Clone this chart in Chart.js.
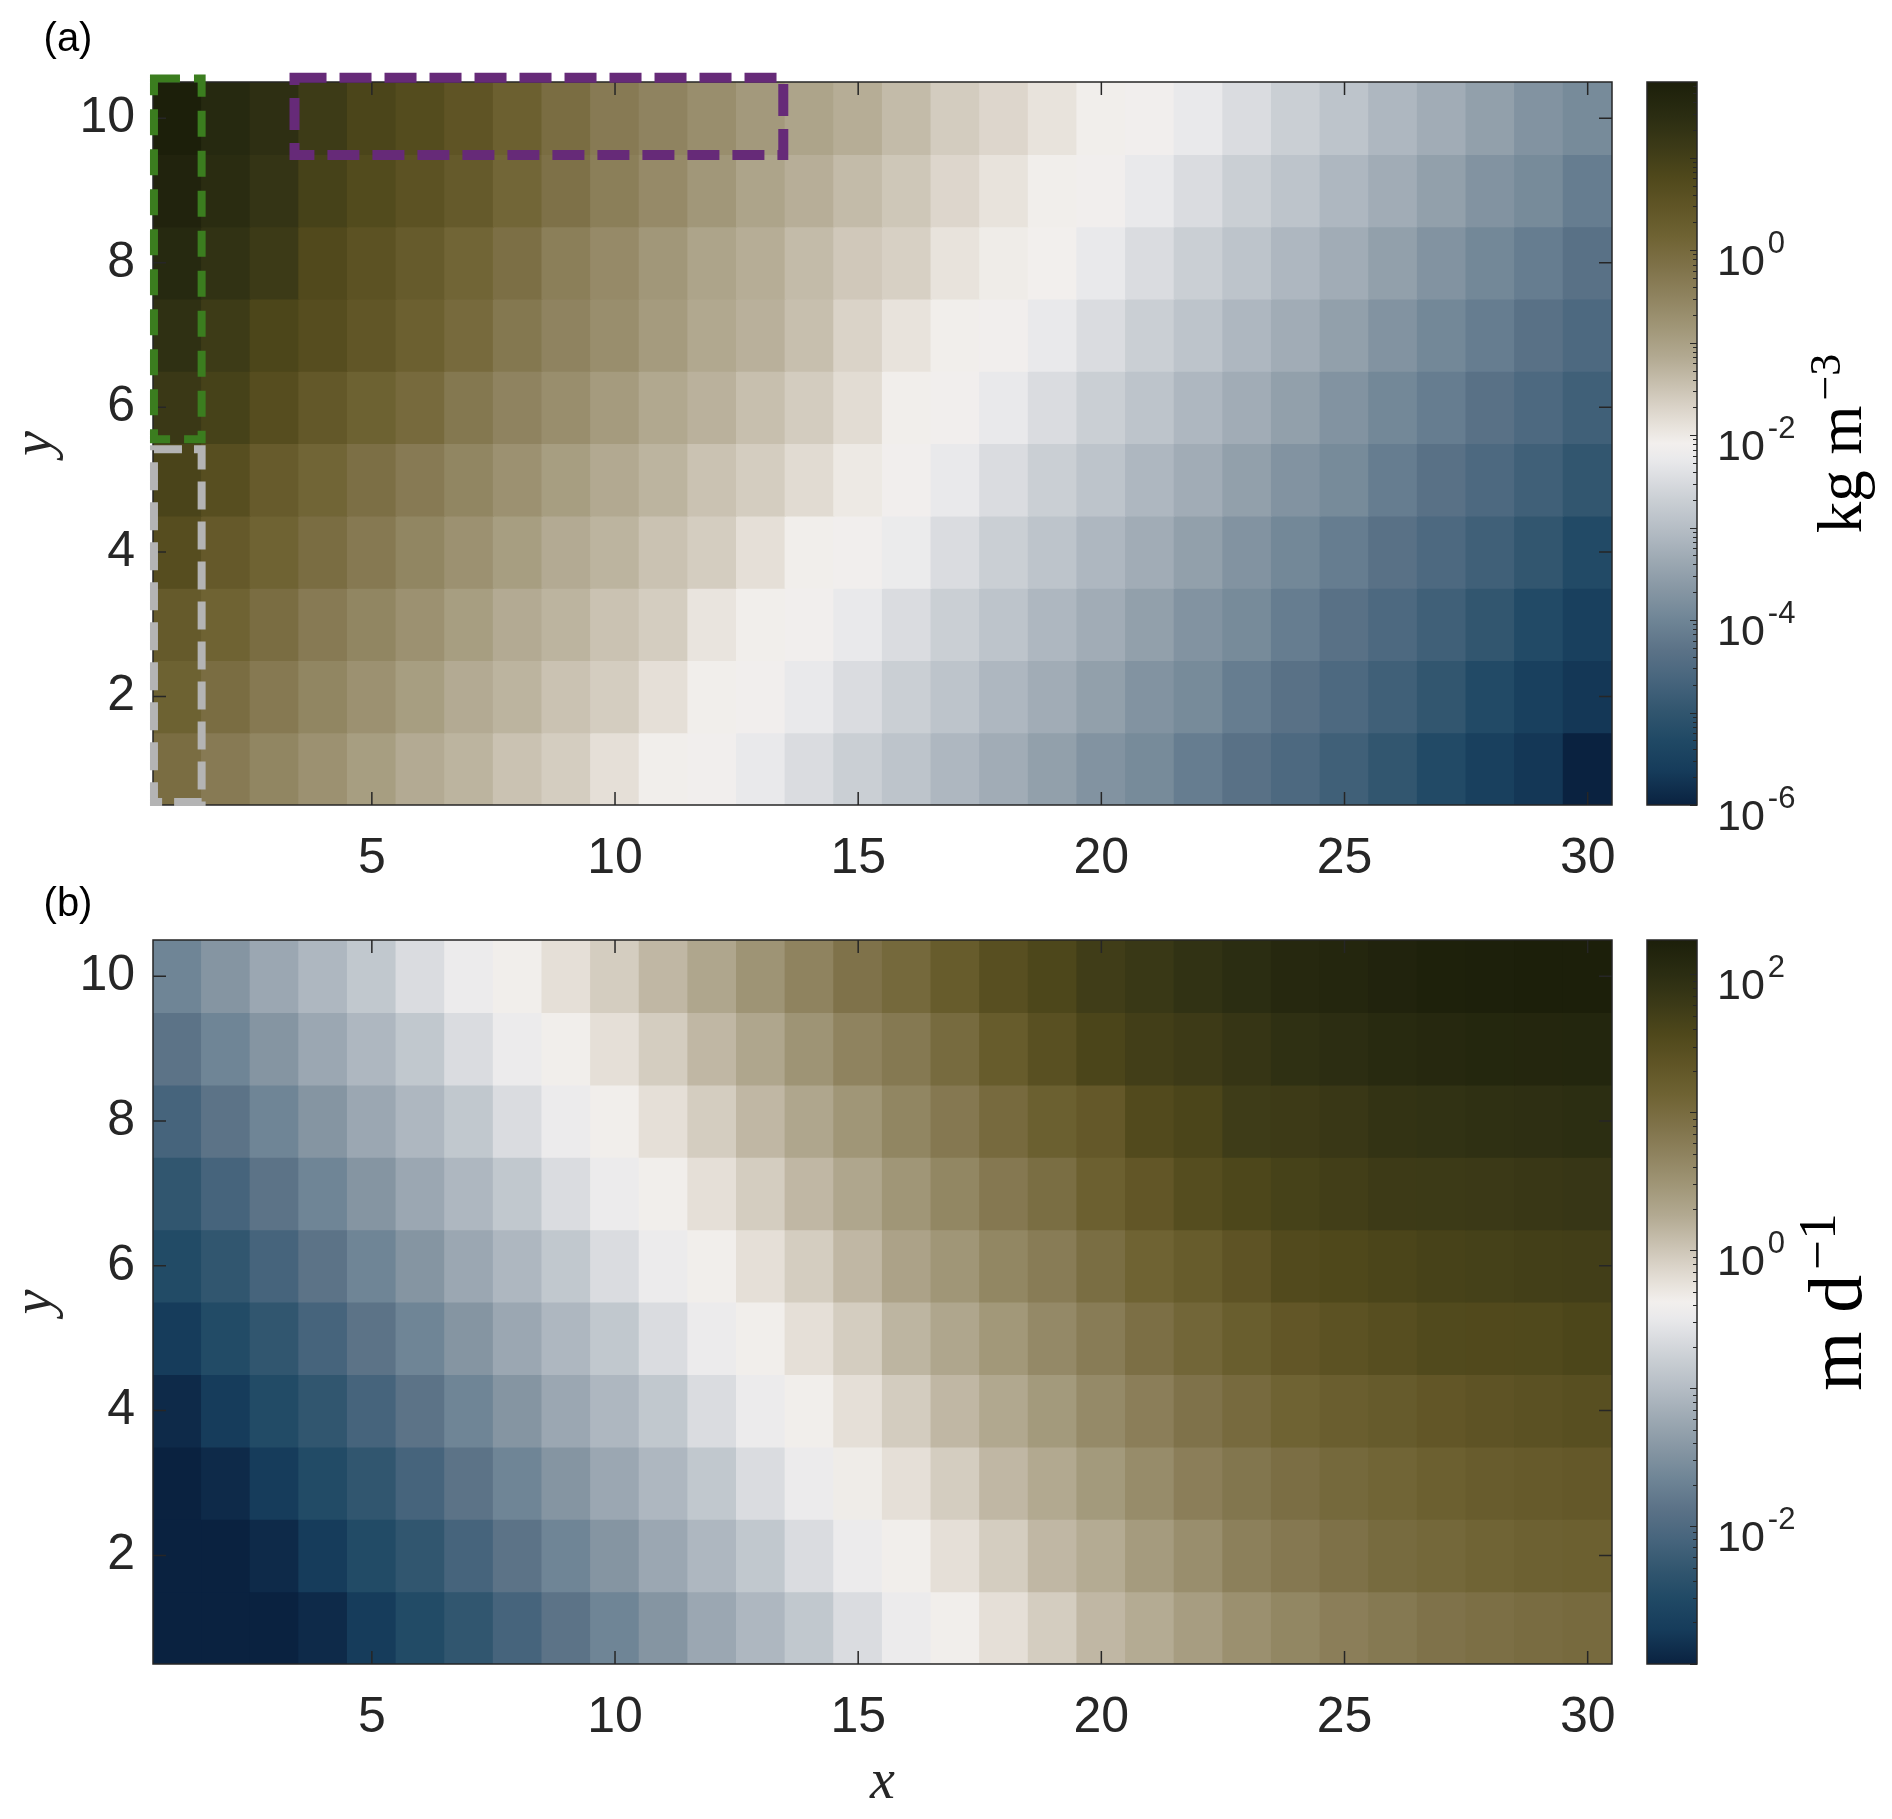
<!DOCTYPE html>
<html>
<head>
<meta charset="utf-8">
<title>Heatmaps (a) and (b)</title>
<script src="https://cdn.jsdelivr.net/npm/chart.js@4.4.1/dist/chart.umd.min.js"></script>
<style>
  html, body { margin: 0; padding: 0; background: #ffffff; }
  #fig { position: relative; width: 1892px; height: 1819px; background: #ffffff; overflow: hidden; }
  #fig canvas { position: absolute; }
</style>
</head>
<body>
<div id="fig">
  <canvas id="heatA" width="1640" height="900" style="left:0px;top:0px;width:1640px;height:900px"></canvas>
  <canvas id="cbarA" width="272" height="900" style="left:1620px;top:0px;width:272px;height:900px"></canvas>
  <canvas id="heatB" width="1640" height="959" style="left:0px;top:860px;width:1640px;height:959px"></canvas>
  <canvas id="cbarB" width="272" height="959" style="left:1620px;top:860px;width:272px;height:959px"></canvas>
</div>
<script>
// ---------------- data ----------------
const xCells = [1,2,3,4,5,6,7,8,9,10,11,12,13,14,15,16,17,18,19,20,21,22,23,24,25,26,27,28,29,30];
const yCells = [1,2,3,4,5,6,7,8,9,10];
const xTickValues = [5, 10, 15, 20, 25, 30];
const yTickValues = [2, 4, 6, 8, 10];

// Panel (a): log10 of the value in kg m^-3; rows listed from y = 10 (top) to y = 1 (bottom)
const concLog10 = [
  [1.82,1.56,1.39,1.10,0.87,0.70,0.49,0.22,-0.08,-0.34,-0.51,-0.70,-0.89,-1.07,-1.20,-1.39,-1.61,-1.74,-1.91,-2.07,-2.11,-2.27,-2.48,-2.70,-2.89,-3.11,-3.30,-3.51,-3.73,-3.89],
  [1.70,1.48,1.27,0.94,0.73,0.55,0.35,0.08,-0.16,-0.42,-0.63,-0.85,-1.07,-1.22,-1.39,-1.54,-1.74,-1.91,-2.07,-2.11,-2.27,-2.48,-2.70,-2.89,-3.11,-3.30,-3.51,-3.73,-3.89,-4.14],
  [1.56,1.33,1.12,0.76,0.55,0.33,0.10,-0.12,-0.42,-0.63,-0.85,-1.07,-1.20,-1.39,-1.56,-1.66,-1.91,-2.04,-2.09,-2.27,-2.48,-2.70,-2.89,-3.11,-3.30,-3.51,-3.73,-3.94,-4.14,-4.36],
  [1.37,1.10,0.85,0.67,0.45,0.22,-0.01,-0.29,-0.51,-0.70,-0.92,-1.13,-1.25,-1.44,-1.70,-1.91,-2.07,-2.11,-2.27,-2.48,-2.70,-2.89,-3.11,-3.30,-3.51,-3.73,-3.94,-4.14,-4.36,-4.55],
  [1.16,0.94,0.67,0.40,0.18,-0.01,-0.29,-0.51,-0.70,-0.92,-1.13,-1.26,-1.44,-1.61,-1.82,-2.07,-2.11,-2.27,-2.48,-2.70,-2.89,-3.11,-3.30,-3.51,-3.73,-3.94,-4.14,-4.36,-4.55,-4.76],
  [0.88,0.65,0.32,0.10,-0.12,-0.34,-0.55,-0.75,-0.96,-1.15,-1.29,-1.48,-1.62,-1.80,-2.00,-2.11,-2.27,-2.48,-2.70,-2.89,-3.11,-3.30,-3.51,-3.73,-3.89,-4.14,-4.36,-4.55,-4.76,-4.98],
  [0.67,0.37,0.15,-0.08,-0.32,-0.55,-0.75,-0.96,-1.17,-1.29,-1.48,-1.62,-1.86,-2.07,-2.11,-2.22,-2.48,-2.70,-2.89,-3.11,-3.30,-3.51,-3.73,-3.94,-4.14,-4.36,-4.55,-4.76,-4.98,-5.26],
  [0.35,0.15,-0.08,-0.34,-0.55,-0.75,-0.96,-1.17,-1.29,-1.48,-1.62,-1.93,-2.07,-2.11,-2.27,-2.48,-2.70,-2.89,-3.11,-3.30,-3.51,-3.73,-3.89,-4.14,-4.36,-4.55,-4.76,-4.98,-5.26,-5.52],
  [0.18,-0.08,-0.32,-0.55,-0.75,-0.96,-1.17,-1.29,-1.48,-1.62,-1.86,-2.07,-2.11,-2.27,-2.48,-2.70,-2.89,-3.11,-3.30,-3.51,-3.73,-3.89,-4.14,-4.36,-4.55,-4.76,-4.98,-5.26,-5.52,-5.70],
  [-0.08,-0.34,-0.55,-0.75,-0.96,-1.17,-1.29,-1.48,-1.62,-1.86,-2.07,-2.11,-2.27,-2.48,-2.70,-2.89,-3.11,-3.30,-3.51,-3.73,-3.89,-4.14,-4.36,-4.55,-4.76,-4.98,-5.26,-5.52,-5.70,-6.00]
];
const concRange = [-6, 1.82];
const concCbarTicks = [-6, -4, -2, 0];

// Panel (b): log10 of the value in m d^-1; rows listed from y = 10 (top) to y = 1 (bottom)
const rateLog10 = [
  [-1.66,-1.45,-1.24,-1.06,-0.87,-0.64,-0.46,-0.36,-0.22,-0.06,0.13,0.29,0.49,0.69,0.90,1.04,1.24,1.44,1.58,1.73,1.81,1.92,2.00,2.08,2.12,2.17,2.21,2.23,2.25,2.25],
  [-1.87,-1.66,-1.45,-1.24,-1.06,-0.87,-0.64,-0.46,-0.36,-0.22,-0.06,0.13,0.29,0.49,0.69,0.82,1.01,1.24,1.43,1.61,1.71,1.77,1.86,1.95,1.99,2.05,2.08,2.11,2.12,2.13],
  [-2.10,-1.87,-1.66,-1.45,-1.24,-1.06,-0.87,-0.64,-0.46,-0.36,-0.22,-0.06,0.13,0.29,0.47,0.66,0.83,1.02,1.18,1.29,1.52,1.61,1.75,1.77,1.82,1.90,1.92,1.95,1.96,1.98],
  [-2.32,-2.10,-1.87,-1.66,-1.45,-1.24,-1.06,-0.87,-0.64,-0.46,-0.36,-0.22,-0.06,0.13,0.29,0.47,0.65,0.83,0.97,1.17,1.32,1.48,1.58,1.66,1.71,1.77,1.78,1.79,1.82,1.84],
  [-2.50,-2.32,-2.10,-1.87,-1.66,-1.45,-1.24,-1.06,-0.87,-0.64,-0.46,-0.36,-0.22,-0.06,0.13,0.33,0.47,0.65,0.78,0.97,1.13,1.24,1.37,1.52,1.56,1.61,1.65,1.67,1.70,1.71],
  [-2.75,-2.50,-2.32,-2.10,-1.87,-1.66,-1.45,-1.24,-1.06,-0.87,-0.64,-0.46,-0.36,-0.22,-0.06,0.15,0.29,0.45,0.62,0.78,0.95,1.08,1.21,1.32,1.40,1.46,1.53,1.54,1.55,1.60],
  [-2.92,-2.75,-2.50,-2.32,-2.10,-1.87,-1.66,-1.45,-1.24,-1.06,-0.87,-0.64,-0.46,-0.36,-0.22,-0.05,0.13,0.27,0.43,0.61,0.75,0.90,1.02,1.13,1.20,1.25,1.32,1.37,1.41,1.44],
  [-3.00,-2.92,-2.75,-2.50,-2.32,-2.10,-1.87,-1.66,-1.45,-1.24,-1.06,-0.87,-0.64,-0.46,-0.34,-0.22,-0.06,0.13,0.26,0.43,0.59,0.75,0.86,0.96,1.04,1.10,1.17,1.23,1.26,1.29],
  [-3.00,-3.00,-2.92,-2.75,-2.50,-2.32,-2.10,-1.87,-1.66,-1.45,-1.24,-1.06,-0.87,-0.64,-0.46,-0.36,-0.22,-0.06,0.13,0.24,0.41,0.56,0.73,0.83,0.92,1.01,1.06,1.11,1.15,1.17],
  [-3.00,-3.00,-3.00,-2.92,-2.75,-2.50,-2.32,-2.10,-1.87,-1.66,-1.45,-1.24,-1.06,-0.87,-0.64,-0.46,-0.36,-0.22,-0.06,0.13,0.24,0.39,0.54,0.65,0.75,0.82,0.90,0.95,0.99,1.02]
];
const rateRange = [-3, 2.25];
const rateCbarTicks = [-2, 0, 2];

// Highlighted regions of panel (a), in cell units: [x0, x1, y0, y1]
const regionTopRow = [3.41, 13.46, 9.49, 10.56];
const regionLeftUpper = [0.52, 1.50, 5.56, 10.55];
const regionLeftLower = [0.52, 1.50, 0.54, 5.42];

// ---------------- style ----------------
const AXIS = '#262626';
const SANS = '"Liberation Sans", Arial, Helvetica, sans-serif';
const SERIF = '"Liberation Serif", "Times New Roman", serif';
Chart.defaults.font.family = SANS;
Chart.defaults.color = AXIS;

// diverging blue - white - olive colour map
const CMAP = [
  [0.000,'#0a2240'],[0.048,'#163c5b'],[0.090,'#204965'],[0.131,'#32566f'],[0.173,'#47657d'],
  [0.214,'#5b7287'],[0.256,'#6f8596'],[0.297,'#8696a3'],[0.339,'#9da9b3'],[0.380,'#b4bcc4'],
  [0.422,'#cacfd4'],[0.450,'#dadce0'],[0.477,'#e9e9eb'],[0.500,'#f2efed'],[0.523,'#e8e3dc'],
  [0.550,'#dad3c8'],[0.578,'#cac2b2'],[0.620,'#b2a991'],[0.661,'#a09677'],[0.703,'#8f835f'],
  [0.744,'#7f7249'],[0.786,'#6f6333'],[0.827,'#605526'],[0.869,'#4f481b'],[0.910,'#3c3a17'],
  [0.952,'#2b2d12'],[1.000,'#1c1f0a']
];
function hexRgb(h) { return [parseInt(h.slice(1,3),16), parseInt(h.slice(3,5),16), parseInt(h.slice(5,7),16)]; }
const CMAP_RGB = CMAP.map(([t, h]) => [t, hexRgb(h)]);
function cmap(t) {
  t = Math.max(0, Math.min(1, t));
  for (let i = 1; i < CMAP_RGB.length; i++) {
    const [t1, c1] = CMAP_RGB[i];
    if (t <= t1) {
      const [t0, c0] = CMAP_RGB[i - 1];
      const f = (t - t0) / (t1 - t0);
      const c = c0.map((v, k) => Math.round(v + (c1[k] - v) * f));
      return 'rgb(' + c.join(',') + ')';
    }
  }
  return CMAP[CMAP.length - 1][1];
}
function colorFor(v, range) { return cmap((v - range[0]) / (range[1] - range[0])); }

function heatDatasets(rows, range) {
  return rows.map((row, r) => {
    const yc = yCells[rows.length - 1 - r];
    return {
      label: 'y = ' + yc,
      data: row.map(() => [yc - 0.5, yc + 0.5]),
      backgroundColor: row.map(v => colorFor(v, range)),
      borderWidth: 0,
      grouped: false,
      barPercentage: 1,
      categoryPercentage: 1,
      inflateAmount: 0.6
    };
  });
}

function heatDecor(cfg) {
  return {
    id: 'heatDecor',
    afterDraw(chart) {
      const { ctx, chartArea: a, scales: { x, y } } = chart;
      ctx.save();
      ctx.strokeStyle = AXIS;
      ctx.lineWidth = 1.5;
      ctx.strokeRect(a.left, a.top, a.right - a.left, a.bottom - a.top);
      const L = 13;
      ctx.beginPath();
      xTickValues.forEach(v => {
        const px = x.getPixelForValue(xCells.indexOf(v));
        ctx.moveTo(px, a.bottom); ctx.lineTo(px, a.bottom - L);
        ctx.moveTo(px, a.top); ctx.lineTo(px, a.top + L);
      });
      yTickValues.forEach(v => {
        const py = y.getPixelForValue(v);
        ctx.moveTo(a.left, py); ctx.lineTo(a.left + L, py);
        ctx.moveTo(a.right, py); ctx.lineTo(a.right - L, py);
      });
      ctx.stroke();
      (cfg.regions || []).forEach(b => {
        const r = b.rect;
        const x0 = x.getPixelForValue(r[0] - 1), x1 = x.getPixelForValue(r[1] - 1);
        const yTop = y.getPixelForValue(r[3]), yBot = y.getPixelForValue(r[2]);
        ctx.setLineDash(b.dash);
        ctx.lineWidth = b.width;
        ctx.strokeStyle = b.color;
        ctx.lineCap = 'butt';
        ctx.lineJoin = 'miter';
        ctx.strokeRect(x0, yTop, x1 - x0, yBot - yTop);
      });
      ctx.setLineDash([]);
      ctx.fillStyle = '#000000';
      ctx.font = '40px ' + SANS;
      ctx.textAlign = 'center';
      ctx.textBaseline = 'middle';
      ctx.fillText(cfg.letter, cfg.letterPos[0], cfg.letterPos[1]);
      ctx.restore();
    }
  };
}

function makeHeat(id, rows, range, cfg) {
  return new Chart(document.getElementById(id), {
    type: 'bar',
    data: { labels: xCells, datasets: heatDatasets(rows, range) },
    options: {
      responsive: false,
      animation: false,
      devicePixelRatio: 1,
      events: [],
      layout: { padding: { left: 0, top: cfg.padTop, right: 28, bottom: 0 } },
      plugins: { legend: { display: false }, tooltip: { enabled: false }, title: { display: false } },
      scales: {
        x: {
          type: 'category',
          offset: true,
          grid: { display: false, drawTicks: false },
          border: { display: false },
          afterBuildTicks: s => { s.ticks = xTickValues.map(v => ({ value: xCells.indexOf(v) })); },
          ticks: { font: { size: 50 }, color: AXIS, padding: 24, maxRotation: 0, autoSkip: false },
          title: {
            display: cfg.xTitle, text: 'x', color: AXIS,
            font: { family: SERIF, style: 'italic', size: 56 },
            padding: { top: 0, bottom: 2 }
          },
          afterFit: s => { s.height = cfg.xAxisHeight; }
        },
        y: {
          type: 'linear',
          min: 0.5,
          max: 10.5,
          grid: { display: false, drawTicks: false },
          border: { display: false },
          afterBuildTicks: s => { s.ticks = yTickValues.map(v => ({ value: v })); },
          ticks: { font: { size: 50 }, color: AXIS, padding: 18 },
          title: {
            display: true, text: 'y', color: AXIS,
            font: { family: SERIF, style: 'italic', size: 56 },
            padding: { top: 3, bottom: 0 }
          },
          afterFit: s => { s.width = 153; }
        }
      }
    },
    plugins: [heatDecor(cfg)]
  });
}

function cbarDecor(range, tickExps, unitBase, unitSup, unitSize) {
  return {
    id: 'cbarDecor',
    afterDraw(chart) {
      const { ctx, chartArea: a, scales: { y } } = chart;
      ctx.save();
      ctx.strokeStyle = AXIS;
      ctx.lineWidth = 1;
      ctx.beginPath();
      for (let n = Math.floor(range[0]); n <= Math.ceil(range[1]); n++) {
        for (let k = 1; k <= 9; k++) {
          const lv = n + Math.log10(k);
          if (lv < range[0] - 1e-9 || lv > range[1] + 1e-9) continue;
          const py = Math.round(y.getPixelForValue(Math.pow(10, lv))) + 0.5;
          const len = k === 1 ? 7 : 4;
          ctx.moveTo(a.right, py); ctx.lineTo(a.right - len, py);
        }
      }
      ctx.stroke();
      ctx.lineWidth = 1.5;
      ctx.strokeRect(a.left, a.top, a.right - a.left, a.bottom - a.top);
      ctx.fillStyle = AXIS;
      ctx.textAlign = 'left';
      ctx.textBaseline = 'alphabetic';
      tickExps.forEach(e => {
        const py = y.getPixelForValue(Math.pow(10, e));
        const x0 = a.right + 20;
        ctx.font = '43px ' + SANS;
        ctx.fillText('10', x0, py + 25);
        const w = ctx.measureText('10').width;
        ctx.font = '31px ' + SANS;
        ctx.fillText(String(e), x0 + w + 3, py + 3);
      });
      // unit label, rotated
      const S = unitSize;
      const cy = (a.top + a.bottom) / 2;
      ctx.translate(a.right + 164, cy);
      ctx.rotate(-Math.PI / 2);
      ctx.font = S + 'px ' + SERIF;
      const w1 = ctx.measureText(unitBase).width;
      ctx.font = Math.round(S * 0.7) + 'px ' + SERIF;
      const w2 = ctx.measureText(unitSup).width;
      const gap = 5;
      const x0 = -(w1 + gap + w2) / 2;
      ctx.fillStyle = '#000000';
      ctx.font = S + 'px ' + SERIF;
      ctx.fillText(unitBase, x0, 0);
      ctx.font = Math.round(S * 0.7) + 'px ' + SERIF;
      ctx.fillText(unitSup, x0 + w1 + gap, -0.34 * S);
      ctx.restore();
    }
  };
}

function makeCbar(id, range, tickExps, unitBase, unitSup, unitSize, padTop, padBottom) {
  return new Chart(document.getElementById(id), {
    type: 'bar',
    data: {
      labels: [''],
      datasets: [{
        data: [[Math.pow(10, range[0]), Math.pow(10, range[1])]],
        borderWidth: 0,
        barPercentage: 1,
        categoryPercentage: 1,
        backgroundColor: c => {
          const ch = c.chart;
          if (!ch.chartArea) return 'rgba(0,0,0,0)';
          const ys = ch.scales.y;
          const y0 = ys.getPixelForValue(Math.pow(10, range[0]));
          const y1 = ys.getPixelForValue(Math.pow(10, range[1]));
          const g = ch.ctx.createLinearGradient(0, y0, 0, y1);
          CMAP.forEach(([t, h]) => g.addColorStop(t, h));
          return g;
        }
      }]
    },
    options: {
      responsive: false,
      animation: false,
      devicePixelRatio: 1,
      events: [],
      layout: { padding: { left: 27, top: padTop, right: 0, bottom: padBottom } },
      plugins: { legend: { display: false }, tooltip: { enabled: false } },
      scales: {
        x: { display: false, offset: true },
        y: {
          type: 'logarithmic',
          position: 'right',
          min: Math.pow(10, range[0]),
          max: Math.pow(10, range[1]),
          grid: { display: false, drawTicks: false },
          border: { display: false },
          ticks: { display: false },
          afterFit: s => { s.width = 195; }
        }
      }
    },
    plugins: [cbarDecor(range, tickExps, unitBase, unitSup, unitSize)]
  });
}

makeHeat('heatA', concLog10, concRange, {
  padTop: 82, xAxisHeight: 95, xTitle: false,
  letter: '(a)', letterPos: [68, 40],
  regions: [
    { rect: regionTopRow, color: '#662a78', width: 10, dash: [32, 13] },
    { rect: regionLeftUpper, color: '#3b7d1f', width: 8, dash: [26, 14] },
    { rect: regionLeftLower, color: '#b4b4b4', width: 8, dash: [28, 12] }
  ]
});
makeCbar('cbarA', concRange, concCbarTicks, 'kg m', '\u22123', 63, 82, 95);

makeHeat('heatB', rateLog10, rateRange, {
  padTop: 80, xAxisHeight: 155, xTitle: true,
  letter: '(b)', letterPos: [68, 45],
  regions: []
});
makeCbar('cbarB', rateRange, rateCbarTicks, 'm d', '\u22121', 76, 80, 155);
</script>
</body>
</html>
